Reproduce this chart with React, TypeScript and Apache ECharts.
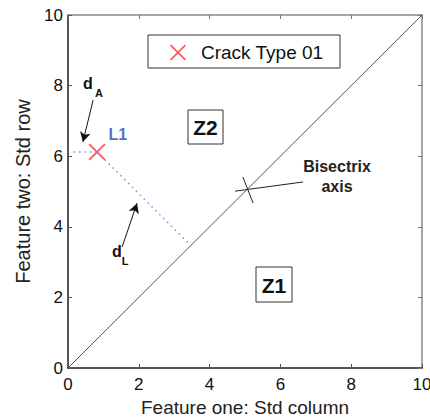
import React, { useEffect, useRef } from "react";
import * as echarts from "echarts";

const axisTicks = [0, 2, 4, 6, 8, 10];
const bisectrix = [[0, 0], [10, 10]];
const crackPoint = [[0.82, 6.12]];
const projectionToAxis = [[0, 6.12], [0.82, 6.12]];
const projectionToBisectrix = [[0.82, 6.12], [3.47, 3.47]];
const arrowDA = [[0.71, 7.59], [0.42, 6.4]];
const arrowDL = [[1.53, 3.43], [1.95, 4.67]];
const bisectrixPointer = [[6.64, 5.27], [4.72, 5.01]];
const bisectrixCross = [[4.94, 5.41], [5.23, 4.67]];

const FONT = "'Liberation Sans', Arial, Helvetica, sans-serif";
const X_PATH =
  "path://M0,1L1,0L7,6L13,0L14,1L8,7L14,13L13,14L7,8L1,14L0,13L6,7Z";

export default function App() {
  const ref = useRef<HTMLDivElement>(null);
  useEffect(() => {
    if (!ref.current) return;
    const chart = echarts.init(ref.current, undefined, { renderer: "svg" });
    const min = axisTicks[0];
    const max = axisTicks[axisTicks.length - 1];
    const interval = axisTicks[1] - axisTicks[0];
    const mainAxis = (name: string, pos: string) => ({
      type: "value",
      position: pos,
      min,
      max,
      interval,
      name,
      nameLocation: "middle",
      nameGap: pos === "bottom" ? 19 : 28,
      nameTextStyle: {
        fontFamily: FONT,
        fontSize: pos === "bottom" ? 19 : 20,
        lineHeight: pos === "bottom" ? 19 : 20,
        color: "#222",
      },
      axisLine: { show: true, onZero: false, lineStyle: { color: "#555", width: 2 } },
      axisTick: { show: true, inside: true, length: 4, lineStyle: { color: "#555", width: 1 } },
      axisLabel: { fontFamily: FONT, fontSize: 17, color: "#111", margin: pos === "bottom" ? 8 : 5 },
      splitLine: { show: false },
    });
    const secondAxis = (pos: string) => ({
      type: "value",
      position: pos,
      min,
      max,
      interval,
      axisLine: { show: true, onZero: false, lineStyle: { color: "#888", width: 1.5 } },
      axisTick: { show: true, inside: true, length: 4, lineStyle: { color: "#777", width: 1 } },
      axisLabel: { show: false },
      splitLine: { show: false },
    });
    const toMark = (pairs: number[][][]) =>
      pairs.map((p) => [{ coord: p[0] }, { coord: p[1] }]);

    chart.setOption({
      animation: false,
      grid: { left: 68, right: 8, top: 15, bottom: 49, containLabel: false, outerBoundsMode: "none" },
      xAxis: [mainAxis("Feature one: Std column", "bottom"), secondAxis("top")],
      yAxis: [mainAxis("Feature two: Std row", "left"), secondAxis("right")],
      legend: {
        data: ["Crack Type 01"],
        left: 170,
        top: 43,
        itemWidth: 16,
        itemHeight: 16,
        padding: 0,
        textStyle: { fontFamily: FONT, fontSize: 19, color: "#111", padding: [0, 0, 0, 10] },
      },
      series: [
        {
          name: "Bisectrix",
          type: "line",
          data: bisectrix,
          symbol: "none",
          silent: true,
          lineStyle: { color: "#555", width: 1 },
          markLine: {
            silent: true,
            symbol: ["none", "arrow"],
            symbolSize: [8, 10],
            label: { show: false },
            lineStyle: { color: "#111", width: 1, type: "solid" },
            data: toMark([arrowDA, arrowDL]),
          },
        },
        {
          name: "pointer",
          type: "line",
          data: [],
          silent: true,
          markLine: {
            silent: true,
            symbol: ["none", "none"],
            label: { show: false },
            lineStyle: { color: "#222", width: 1, type: "solid" },
            data: toMark([bisectrixPointer, bisectrixCross]),
          },
        },
        {
          name: "projA",
          type: "line",
          data: projectionToAxis,
          symbol: "none",
          silent: true,
          lineStyle: { color: "#7a90e4", width: 1.5, type: [1.5, 4] },
        },
        {
          name: "projL",
          type: "line",
          data: projectionToBisectrix,
          symbol: "none",
          silent: true,
          lineStyle: { color: "#7a90e4", width: 1.5, type: [1.5, 4] },
        },
        {
          name: "Crack Type 01",
          type: "scatter",
          data: crackPoint,
          symbol: X_PATH,
          symbolSize: 17,
          itemStyle: { color: "#ff2a2a" },
          label: {
            show: true,
            formatter: "L1",
            position: "right",
            offset: [-2, -17],
            fontFamily: FONT,
            fontWeight: "bold",
            fontSize: 16,
            color: "#2848b0",
          },
        },
      ],
      graphic: [
        { type: "rect", shape: { x: 148, y: 35, width: 192, height: 33 }, style: { fill: "#fff", stroke: "#333", lineWidth: 1 }, z: 0 },
        { type: "rect", shape: { x: 188, y: 110, width: 35, height: 34 }, style: { fill: "none", stroke: "#333", lineWidth: 1 } },
        { type: "text", x: 205.5, y: 127, style: { text: "Z2", fontFamily: FONT, fontWeight: "bold", fontSize: 21, fill: "#111", align: "center", verticalAlign: "middle" } },
        { type: "rect", shape: { x: 256, y: 267, width: 36, height: 35 }, style: { fill: "none", stroke: "#333", lineWidth: 1 } },
        { type: "text", x: 274, y: 285, style: { text: "Z1", fontFamily: FONT, fontWeight: "bold", fontSize: 21, fill: "#111", align: "center", verticalAlign: "middle" } },
        { type: "text", x: 337, y: 166, style: { text: "Bisectrix", fontFamily: FONT, fontWeight: "bold", fontSize: 16, fill: "#222", align: "center", verticalAlign: "middle" } },
        { type: "text", x: 337, y: 186, style: { text: "axis", fontFamily: FONT, fontWeight: "bold", fontSize: 16, fill: "#222", align: "center", verticalAlign: "middle" } },
        { type: "text", x: 88, y: 83, style: { text: "d", fontFamily: FONT, fontWeight: "bold", fontSize: 16, fill: "#111", align: "center", verticalAlign: "middle" } },
        { type: "text", x: 99, y: 93, style: { text: "A", fontFamily: FONT, fontWeight: "bold", fontSize: 11, fill: "#111", align: "center", verticalAlign: "middle" } },
        { type: "text", x: 117, y: 251, style: { text: "d", fontFamily: FONT, fontWeight: "bold", fontSize: 16, fill: "#111", align: "center", verticalAlign: "middle" } },
        { type: "text", x: 125, y: 261, style: { text: "L", fontFamily: FONT, fontWeight: "bold", fontSize: 11, fill: "#111", align: "center", verticalAlign: "middle" } },
      ],
    });
    return () => chart.dispose();
  }, []);
  return <div ref={ref} style={{ width: 430, height: 417, position: "absolute", left: 0, top: 0 }} />;
}
